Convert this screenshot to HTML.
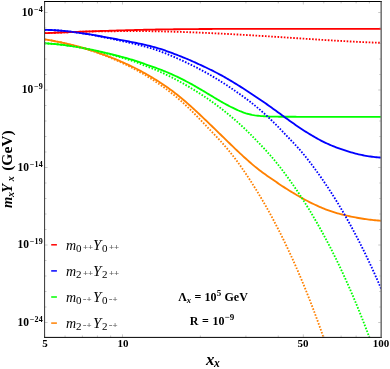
<!DOCTYPE html>
<html><head><meta charset="utf-8"><title>plot</title>
<style>
html,body{margin:0;padding:0;background:#fff;width:390px;height:369px;overflow:hidden;}
#w{width:390px;height:369px;position:relative;overflow:hidden;background:#fff;font-family:"Liberation Serif",serif;color:#000;}
.t{position:absolute;white-space:nowrap;line-height:1;will-change:transform;}
.yl{font-weight:bold;font-size:11.5px;text-align:right;width:40px;left:3.3px;}
.yl sup{font-size:8px;vertical-align:baseline;position:relative;top:-3.7px;margin-left:0.6px;letter-spacing:0.25px;}
.xl{font-weight:bold;font-size:11px;text-align:center;width:30px;}
.lgi{font-style:italic;}
.lgn{}
.lgp{color:#5a5a5a;letter-spacing:-0.2px;font-weight:bold;}
.an{font-weight:bold;font-size:12px;text-align:center;width:120px;left:152.5px;}
.an sup{font-size:9px;vertical-align:baseline;position:relative;top:-4.6px;}
.an sub{font-size:8.5px;vertical-align:baseline;position:relative;top:2px;font-style:italic;}
.xt{font-weight:bold;font-style:italic;font-size:15px;}
.xt sub{font-size:11px;vertical-align:baseline;position:relative;top:3.5px;}
</style></head><body><div id="w">
<svg width="390" height="369" viewBox="0 0 390 369" style="position:absolute;left:0;top:0">
<defs><clipPath id="c"><rect x="44.6" y="1.5" width="336.59999999999997" height="335.9"/></clipPath></defs>
<g clip-path="url(#c)" fill="none" stroke-linejoin="round">
<path d="M44.6,39.44 L46.5,39.68 L48.0,39.93 L49.5,40.19 L51.0,40.45 L52.5,40.72 L54.0,41.00 L55.5,41.29 L57.0,41.58 L58.5,41.88 L60.0,42.19 L61.5,42.50 L63.0,42.83 L64.5,43.16 L66.0,43.49 L67.5,43.84 L69.0,44.19 L70.5,44.55 L72.0,44.92 L73.5,45.30 L75.0,45.68 L76.5,46.08 L78.0,46.48 L79.5,46.89 L81.0,47.31 L82.5,47.74 L84.0,48.18 L85.5,48.63 L87.0,49.09 L88.5,49.55 L90.0,50.02 L91.5,50.50 L93.0,50.99 L94.5,51.48 L96.0,51.99 L97.5,52.50 L99.0,53.01 L100.5,53.53 L102.0,54.06 L103.5,54.60 L105.0,55.15 L106.5,55.71 L108.0,56.27 L109.5,56.84 L111.0,57.42 L112.5,58.01 L114.0,58.61 L115.5,59.22 L117.0,59.84 L118.5,60.46 L120.0,61.10 L121.5,61.74 L123.0,62.40 L124.5,63.06 L126.0,63.74 L127.5,64.42 L129.0,65.12 L130.5,65.83 L132.0,66.55 L133.5,67.28 L135.0,68.03 L136.5,68.78 L138.0,69.55 L139.5,70.34 L141.0,71.13 L142.5,71.94 L144.0,72.77 L145.5,73.61 L147.0,74.46 L148.5,75.33 L150.0,76.22 L151.5,77.11 L153.0,78.02 L154.5,78.94 L156.0,79.87 L157.5,80.81 L159.0,81.76 L160.5,82.73 L162.0,83.72 L163.5,84.72 L165.0,85.74 L166.5,86.78 L168.0,87.83 L169.5,88.91 L171.0,90.00 L172.5,91.11 L174.0,92.25 L175.5,93.40 L177.0,94.57 L178.5,95.77 L180.0,96.98 L181.5,98.22 L183.0,99.48 L184.5,100.75 L186.0,102.05 L187.5,103.37 L189.0,104.69 L190.5,106.03 L192.0,107.38 L193.5,108.74 L195.0,110.12 L196.5,111.50 L198.0,112.90 L199.5,114.30 L201.0,115.71 L202.5,117.13 L204.0,118.56 L205.5,119.99 L207.0,121.43 L208.5,122.88 L210.0,124.33 L211.5,125.78 L213.0,127.23 L214.5,128.69 L216.0,130.15 L217.5,131.61 L219.0,133.07 L220.5,134.53 L222.0,135.99 L223.5,137.45 L225.0,138.91 L226.5,140.37 L228.0,141.83 L229.5,143.28 L231.0,144.73 L232.5,146.18 L234.0,147.62 L235.5,149.05 L237.0,150.48 L238.5,151.89 L240.0,153.30 L241.5,154.69 L243.0,156.08 L244.5,157.45 L246.0,158.81 L247.5,160.15 L249.0,161.47 L250.5,162.78 L252.0,164.08 L253.5,165.35 L255.0,166.60 L256.5,167.83 L258.0,169.02 L259.5,170.19 L261.0,171.32 L262.5,172.43 L264.0,173.52 L265.5,174.60 L267.0,175.65 L268.5,176.70 L270.0,177.74 L271.5,178.77 L273.0,179.80 L274.5,180.83 L276.0,181.86 L277.5,182.88 L279.0,183.90 L280.5,184.90 L282.0,185.90 L283.5,186.88 L285.0,187.85 L286.5,188.81 L288.0,189.75 L289.5,190.69 L291.0,191.60 L292.5,192.51 L294.0,193.41 L295.5,194.30 L297.0,195.18 L298.5,196.06 L300.0,196.93 L301.5,197.78 L303.0,198.63 L304.5,199.45 L306.0,200.26 L307.5,201.05 L309.0,201.82 L310.5,202.57 L312.0,203.31 L313.5,204.04 L315.0,204.75 L316.5,205.45 L318.0,206.14 L319.5,206.81 L321.0,207.46 L322.5,208.09 L324.0,208.71 L325.5,209.30 L327.0,209.87 L328.5,210.42 L330.0,210.95 L331.5,211.45 L333.0,211.93 L334.5,212.40 L336.0,212.85 L337.5,213.28 L339.0,213.70 L340.5,214.10 L342.0,214.48 L343.5,214.86 L345.0,215.22 L346.5,215.57 L348.0,215.90 L349.5,216.23 L351.0,216.55 L352.5,216.85 L354.0,217.15 L355.5,217.44 L357.0,217.73 L358.5,218.00 L360.0,218.25 L361.5,218.50 L363.0,218.74 L364.5,218.96 L366.0,219.17 L367.5,219.38 L369.0,219.57 L370.5,219.75 L372.0,219.92 L373.5,220.08 L375.0,220.23 L376.5,220.37 L378.0,220.50 L379.5,220.62 L381.0,220.74 L381.2,220.74" stroke="#ff8000" stroke-width="1.85"/>
<path d="M44.6,43.36 L46.5,43.44 L48.0,43.53 L49.5,43.64 L51.0,43.75 L52.5,43.86 L54.0,43.99 L55.5,44.12 L57.0,44.26 L58.5,44.42 L60.0,44.58 L61.5,44.76 L63.0,44.94 L64.5,45.13 L66.0,45.32 L67.5,45.52 L69.0,45.73 L70.5,45.95 L72.0,46.18 L73.5,46.41 L75.0,46.65 L76.5,46.90 L78.0,47.15 L79.5,47.41 L81.0,47.68 L82.5,47.95 L84.0,48.23 L85.5,48.51 L87.0,48.80 L88.5,49.10 L90.0,49.40 L91.5,49.71 L93.0,50.02 L94.5,50.34 L96.0,50.66 L97.5,50.99 L99.0,51.32 L100.5,51.66 L102.0,52.00 L103.5,52.35 L105.0,52.70 L106.5,53.05 L108.0,53.41 L109.5,53.77 L111.0,54.14 L112.5,54.51 L114.0,54.89 L115.5,55.26 L117.0,55.64 L118.5,56.02 L120.0,56.41 L121.5,56.80 L123.0,57.20 L124.5,57.60 L126.0,58.01 L127.5,58.42 L129.0,58.84 L130.5,59.27 L132.0,59.71 L133.5,60.16 L135.0,60.62 L136.5,61.11 L138.0,61.61 L139.5,62.13 L141.0,62.66 L142.5,63.19 L144.0,63.72 L145.5,64.25 L147.0,64.77 L148.5,65.29 L150.0,65.81 L151.5,66.33 L153.0,66.86 L154.5,67.40 L156.0,67.95 L157.5,68.50 L159.0,69.06 L160.5,69.63 L162.0,70.20 L163.5,70.79 L165.0,71.40 L166.5,72.01 L168.0,72.64 L169.5,73.29 L171.0,73.95 L172.5,74.62 L174.0,75.30 L175.5,75.99 L177.0,76.70 L178.5,77.42 L180.0,78.16 L181.5,78.91 L183.0,79.66 L184.5,80.43 L186.0,81.21 L187.5,82.00 L189.0,82.79 L190.5,83.61 L192.0,84.43 L193.5,85.26 L195.0,86.10 L196.5,86.96 L198.0,87.83 L199.5,88.71 L201.0,89.61 L202.5,90.51 L204.0,91.40 L205.5,92.30 L207.0,93.20 L208.5,94.10 L210.0,95.01 L211.5,95.91 L213.0,96.81 L214.5,97.70 L216.0,98.59 L217.5,99.48 L219.0,100.37 L220.5,101.25 L222.0,102.12 L223.5,102.97 L225.0,103.80 L226.5,104.61 L228.0,105.41 L229.5,106.20 L231.0,106.96 L232.5,107.70 L234.0,108.43 L235.5,109.15 L237.0,109.85 L238.5,110.52 L240.0,111.14 L241.5,111.72 L243.0,112.28 L244.5,112.81 L246.0,113.30 L247.5,113.74 L249.0,114.13 L250.5,114.49 L252.0,114.83 L253.5,115.13 L255.0,115.39 L256.5,115.59 L258.0,115.77 L259.5,115.93 L261.0,116.07 L262.5,116.18 L264.0,116.28 L265.5,116.37 L267.0,116.45 L268.5,116.52 L270.0,116.57 L271.5,116.61 L273.0,116.63 L274.5,116.65 L276.0,116.67 L277.5,116.69 L279.0,116.71 L280.5,116.72 L282.0,116.73 L283.5,116.74 L285.0,116.75 L286.5,116.76 L288.0,116.77 L289.5,116.77 L291.0,116.78 L292.5,116.78 L294.0,116.79 L295.5,116.79 L297.0,116.80 L298.5,116.80 L300.0,116.80 L301.5,116.80 L303.0,116.80 L304.5,116.80 L306.0,116.80 L307.5,116.80 L309.0,116.80 L310.5,116.80 L312.0,116.80 L313.5,116.80 L315.0,116.80 L316.5,116.80 L318.0,116.80 L319.5,116.80 L321.0,116.80 L322.5,116.80 L324.0,116.80 L325.5,116.80 L327.0,116.80 L328.5,116.80 L330.0,116.80 L331.5,116.80 L333.0,116.80 L334.5,116.80 L336.0,116.80 L337.5,116.80 L339.0,116.80 L340.5,116.80 L342.0,116.80 L343.5,116.80 L345.0,116.80 L346.5,116.80 L348.0,116.80 L349.5,116.80 L351.0,116.80 L352.5,116.80 L354.0,116.80 L355.5,116.80 L357.0,116.80 L358.5,116.80 L360.0,116.80 L361.5,116.80 L363.0,116.80 L364.5,116.80 L366.0,116.80 L367.5,116.80 L369.0,116.80 L370.5,116.80 L372.0,116.80 L373.5,116.80 L375.0,116.80 L376.5,116.80 L378.0,116.80 L379.5,116.80 L381.0,116.80 L381.2,116.80" stroke="#00ff00" stroke-width="1.85"/>
<path d="M44.6,33.19 L46.5,33.12 L48.0,33.05 L49.5,32.98 L51.0,32.92 L52.5,32.85 L54.0,32.78 L55.5,32.72 L57.0,32.66 L58.5,32.59 L60.0,32.53 L61.5,32.47 L63.0,32.40 L64.5,32.34 L66.0,32.28 L67.5,32.22 L69.0,32.16 L70.5,32.10 L72.0,32.04 L73.5,31.99 L75.0,31.93 L76.5,31.87 L78.0,31.81 L79.5,31.76 L81.0,31.70 L82.5,31.65 L84.0,31.59 L85.5,31.54 L87.0,31.49 L88.5,31.44 L90.0,31.38 L91.5,31.33 L93.0,31.28 L94.5,31.23 L96.0,31.18 L97.5,31.13 L99.0,31.08 L100.5,31.04 L102.0,30.99 L103.5,30.94 L105.0,30.89 L106.5,30.85 L108.0,30.80 L109.5,30.76 L111.0,30.71 L112.5,30.67 L114.0,30.62 L115.5,30.58 L117.0,30.53 L118.5,30.49 L120.0,30.44 L121.5,30.40 L123.0,30.35 L124.5,30.31 L126.0,30.27 L127.5,30.22 L129.0,30.18 L130.5,30.13 L132.0,30.09 L133.5,30.05 L135.0,30.01 L136.5,29.97 L138.0,29.93 L139.5,29.89 L141.0,29.85 L142.5,29.81 L144.0,29.78 L145.5,29.74 L147.0,29.71 L148.5,29.67 L150.0,29.64 L151.5,29.61 L153.0,29.58 L154.5,29.55 L156.0,29.53 L157.5,29.50 L159.0,29.48 L160.5,29.46 L162.0,29.44 L163.5,29.42 L165.0,29.40 L166.5,29.38 L168.0,29.36 L169.5,29.34 L171.0,29.32 L172.5,29.30 L174.0,29.28 L175.5,29.27 L177.0,29.25 L178.5,29.23 L180.0,29.22 L181.5,29.20 L183.0,29.18 L184.5,29.17 L186.0,29.16 L187.5,29.14 L189.0,29.13 L190.5,29.11 L192.0,29.10 L193.5,29.09 L195.0,29.07 L196.5,29.06 L198.0,29.05 L199.5,29.04 L201.0,29.03 L202.5,29.02 L204.0,29.01 L205.5,29.00 L207.0,28.99 L208.5,28.98 L210.0,28.97 L211.5,28.96 L213.0,28.95 L214.5,28.94 L216.0,28.93 L217.5,28.93 L219.0,28.92 L220.5,28.91 L222.0,28.90 L223.5,28.90 L225.0,28.89 L226.5,28.88 L228.0,28.88 L229.5,28.87 L231.0,28.87 L232.5,28.86 L234.0,28.86 L235.5,28.85 L237.0,28.85 L238.5,28.84 L240.0,28.84 L241.5,28.84 L243.0,28.83 L244.5,28.83 L246.0,28.83 L247.5,28.82 L249.0,28.82 L250.5,28.82 L252.0,28.82 L253.5,28.81 L255.0,28.81 L256.5,28.81 L258.0,28.81 L259.5,28.81 L261.0,28.81 L262.5,28.80 L264.0,28.80 L265.5,28.80 L267.0,28.80 L268.5,28.80 L270.0,28.80 L271.5,28.80 L273.0,28.80 L274.5,28.80 L276.0,28.80 L277.5,28.80 L279.0,28.80 L280.5,28.80 L282.0,28.80 L283.5,28.80 L285.0,28.80 L286.5,28.81 L288.0,28.81 L289.5,28.81 L291.0,28.81 L292.5,28.81 L294.0,28.81 L295.5,28.81 L297.0,28.81 L298.5,28.82 L300.0,28.82 L301.5,28.82 L303.0,28.82 L304.5,28.82 L306.0,28.83 L307.5,28.83 L309.0,28.83 L310.5,28.83 L312.0,28.83 L313.5,28.84 L315.0,28.84 L316.5,28.84 L318.0,28.84 L319.5,28.84 L321.0,28.85 L322.5,28.85 L324.0,28.85 L325.5,28.85 L327.0,28.85 L328.5,28.86 L330.0,28.86 L331.5,28.86 L333.0,28.86 L334.5,28.86 L336.0,28.87 L337.5,28.87 L339.0,28.87 L340.5,28.87 L342.0,28.87 L343.5,28.88 L345.0,28.88 L346.5,28.88 L348.0,28.88 L349.5,28.88 L351.0,28.88 L352.5,28.89 L354.0,28.89 L355.5,28.89 L357.0,28.89 L358.5,28.89 L360.0,28.89 L361.5,28.89 L363.0,28.89 L364.5,28.89 L366.0,28.89 L367.5,28.89 L369.0,28.89 L370.5,28.89 L372.0,28.89 L373.5,28.89 L375.0,28.89 L376.5,28.89 L378.0,28.89 L379.5,28.89 L381.0,28.89 L381.2,28.89" stroke="#ff0000" stroke-width="1.85"/>
<path d="M44.6,29.85 L46.5,29.88 L48.0,29.92 L49.5,29.97 L51.0,30.03 L52.5,30.10 L54.0,30.18 L55.5,30.27 L57.0,30.37 L58.5,30.48 L60.0,30.60 L61.5,30.73 L63.0,30.86 L64.5,31.00 L66.0,31.16 L67.5,31.31 L69.0,31.48 L70.5,31.65 L72.0,31.83 L73.5,32.02 L75.0,32.21 L76.5,32.41 L78.0,32.62 L79.5,32.83 L81.0,33.05 L82.5,33.27 L84.0,33.50 L85.5,33.73 L87.0,33.97 L88.5,34.21 L90.0,34.45 L91.5,34.70 L93.0,34.95 L94.5,35.21 L96.0,35.47 L97.5,35.73 L99.0,36.00 L100.5,36.26 L102.0,36.53 L103.5,36.80 L105.0,37.08 L106.5,37.35 L108.0,37.63 L109.5,37.90 L111.0,38.18 L112.5,38.45 L114.0,38.73 L115.5,39.01 L117.0,39.28 L118.5,39.56 L120.0,39.84 L121.5,40.11 L123.0,40.39 L124.5,40.67 L126.0,40.95 L127.5,41.23 L129.0,41.52 L130.5,41.81 L132.0,42.10 L133.5,42.39 L135.0,42.69 L136.5,42.99 L138.0,43.30 L139.5,43.62 L141.0,43.94 L142.5,44.26 L144.0,44.60 L145.5,44.94 L147.0,45.29 L148.5,45.64 L150.0,46.01 L151.5,46.38 L153.0,46.78 L154.5,47.19 L156.0,47.62 L157.5,48.06 L159.0,48.52 L160.5,48.99 L162.0,49.48 L163.5,49.98 L165.0,50.49 L166.5,51.02 L168.0,51.55 L169.5,52.10 L171.0,52.65 L172.5,53.21 L174.0,53.78 L175.5,54.35 L177.0,54.92 L178.5,55.50 L180.0,56.08 L181.5,56.67 L183.0,57.27 L184.5,57.87 L186.0,58.49 L187.5,59.13 L189.0,59.77 L190.5,60.42 L192.0,61.08 L193.5,61.75 L195.0,62.43 L196.5,63.10 L198.0,63.79 L199.5,64.47 L201.0,65.16 L202.5,65.86 L204.0,66.57 L205.5,67.28 L207.0,68.00 L208.5,68.72 L210.0,69.46 L211.5,70.20 L213.0,70.95 L214.5,71.71 L216.0,72.48 L217.5,73.27 L219.0,74.06 L220.5,74.86 L222.0,75.68 L223.5,76.51 L225.0,77.35 L226.5,78.21 L228.0,79.08 L229.5,79.96 L231.0,80.86 L232.5,81.77 L234.0,82.68 L235.5,83.60 L237.0,84.52 L238.5,85.46 L240.0,86.40 L241.5,87.35 L243.0,88.30 L244.5,89.26 L246.0,90.23 L247.5,91.20 L249.0,92.18 L250.5,93.17 L252.0,94.16 L253.5,95.15 L255.0,96.16 L256.5,97.16 L258.0,98.18 L259.5,99.20 L261.0,100.22 L262.5,101.25 L264.0,102.29 L265.5,103.33 L267.0,104.37 L268.5,105.43 L270.0,106.49 L271.5,107.56 L273.0,108.64 L274.5,109.72 L276.0,110.81 L277.5,111.90 L279.0,113.00 L280.5,114.09 L282.0,115.19 L283.5,116.29 L285.0,117.38 L286.5,118.48 L288.0,119.57 L289.5,120.65 L291.0,121.73 L292.5,122.80 L294.0,123.87 L295.5,124.92 L297.0,125.96 L298.5,126.99 L300.0,128.01 L301.5,129.00 L303.0,129.99 L304.5,130.95 L306.0,131.90 L307.5,132.84 L309.0,133.76 L310.5,134.66 L312.0,135.55 L313.5,136.42 L315.0,137.28 L316.5,138.12 L318.0,138.95 L319.5,139.76 L321.0,140.56 L322.5,141.33 L324.0,142.08 L325.5,142.81 L327.0,143.51 L328.5,144.19 L330.0,144.85 L331.5,145.49 L333.0,146.10 L334.5,146.70 L336.0,147.28 L337.5,147.84 L339.0,148.39 L340.5,148.92 L342.0,149.44 L343.5,149.94 L345.0,150.44 L346.5,150.92 L348.0,151.39 L349.5,151.85 L351.0,152.29 L352.5,152.72 L354.0,153.14 L355.5,153.54 L357.0,153.92 L358.5,154.28 L360.0,154.63 L361.5,154.96 L363.0,155.26 L364.5,155.55 L366.0,155.82 L367.5,156.07 L369.0,156.30 L370.5,156.52 L372.0,156.72 L373.5,156.91 L375.0,157.09 L376.5,157.24 L378.0,157.39 L379.5,157.52 L381.0,157.64 L381.2,157.64" stroke="#0000ff" stroke-width="1.85"/>
<path d="M44.6,39.44 L46.5,39.68 L48.0,39.93 L49.5,40.19 L51.0,40.45 L52.5,40.72 L54.0,41.00 L55.5,41.29 L57.0,41.58 L58.5,41.88 L60.0,42.19 L61.5,42.50 L63.0,42.83 L64.5,43.16 L66.0,43.50 L67.5,43.85 L69.0,44.21 L70.5,44.58 L72.0,44.95 L73.5,45.33 L75.0,45.73 L76.5,46.13 L78.0,46.54 L79.5,46.96 L81.0,47.39 L82.5,47.83 L84.0,48.28 L85.5,48.73 L87.0,49.20 L88.5,49.68 L90.0,50.17 L91.5,50.67 L93.0,51.18 L94.5,51.69 L96.0,52.22 L97.5,52.75 L99.0,53.29 L100.5,53.84 L102.0,54.40 L103.5,54.98 L105.0,55.56 L106.5,56.16 L108.0,56.76 L109.5,57.38 L111.0,58.00 L112.5,58.63 L114.0,59.27 L115.5,59.93 L117.0,60.59 L118.5,61.26 L120.0,61.94 L121.5,62.63 L123.0,63.33 L124.5,64.05 L126.0,64.77 L127.5,65.50 L129.0,66.25 L130.5,67.01 L132.0,67.77 L133.5,68.56 L135.0,69.35 L136.5,70.16 L138.0,70.98 L139.5,71.82 L141.0,72.67 L142.5,73.53 L144.0,74.41 L145.5,75.31 L147.0,76.22 L148.5,77.14 L150.0,78.08 L151.5,79.03 L153.0,80.00 L154.5,80.97 L156.0,81.96 L157.5,82.96 L159.0,83.97 L160.5,85.00 L162.0,86.05 L163.5,87.11 L165.0,88.20 L166.5,89.30 L168.0,90.42 L169.5,91.55 L171.0,92.71 L172.5,93.89 L174.0,95.09 L175.5,96.31 L177.0,97.55 L178.5,98.82 L180.0,100.11 L181.5,101.42 L183.0,102.76 L184.5,104.12 L186.0,105.51 L187.5,106.93 L189.0,108.36 L190.5,109.81 L192.0,111.28 L193.5,112.77 L195.0,114.27 L196.5,115.78 L198.0,117.31 L199.5,118.86 L201.0,120.41 L202.5,121.98 L204.0,123.56 L205.5,125.15 L207.0,126.73 L208.5,128.31 L210.0,129.88 L211.5,131.46 L213.0,133.03 L214.5,134.61 L216.0,136.21 L217.5,137.81 L219.0,139.43 L220.5,141.07 L222.0,142.73 L223.5,144.42 L225.0,146.14 L226.5,147.88 L228.0,149.66 L229.5,151.47 L231.0,153.32 L232.5,155.21 L234.0,157.15 L235.5,159.13 L237.0,161.15 L238.5,163.21 L240.0,165.31 L241.5,167.45 L243.0,169.62 L244.5,171.81 L246.0,174.02 L247.5,176.27 L249.0,178.54 L250.5,180.84 L252.0,183.17 L253.5,185.53 L255.0,187.92 L256.5,190.35 L258.0,192.80 L259.5,195.29 L261.0,197.81 L262.5,200.36 L264.0,202.95 L265.5,205.57 L267.0,208.22 L268.5,210.91 L270.0,213.63 L271.5,216.38 L273.0,219.18 L274.5,222.01 L276.0,224.87 L277.5,227.77 L279.0,230.71 L280.5,233.69 L282.0,236.71 L283.5,239.76 L285.0,242.85 L286.5,245.99 L288.0,249.16 L289.5,252.38 L291.0,255.64 L292.5,258.93 L294.0,262.28 L295.5,265.66 L297.0,269.09 L298.5,272.56 L300.0,276.08 L301.5,279.64 L303.0,283.24 L304.5,286.90 L306.0,290.60 L307.5,294.35 L309.0,298.15 L310.5,301.99 L312.0,305.89 L313.5,309.83 L315.0,313.83 L316.5,317.87 L318.0,321.97 L319.5,326.13 L321.0,330.33 L322.5,334.59 L324.0,338.91 L325.5,343.27 L326.7,346.81" stroke="#ff8000" stroke-width="1.85" stroke-dasharray="1.6 1.55"/>
<path d="M44.6,43.36 L46.5,43.44 L48.0,43.53 L49.5,43.64 L51.0,43.75 L52.5,43.86 L54.0,43.99 L55.5,44.12 L57.0,44.26 L58.5,44.42 L60.0,44.58 L61.5,44.76 L63.0,44.94 L64.5,45.13 L66.0,45.33 L67.5,45.53 L69.0,45.75 L70.5,45.97 L72.0,46.21 L73.5,46.45 L75.0,46.69 L76.5,46.95 L78.0,47.21 L79.5,47.48 L81.0,47.75 L82.5,48.04 L84.0,48.32 L85.5,48.62 L87.0,48.92 L88.5,49.23 L90.0,49.55 L91.5,49.88 L93.0,50.21 L94.5,50.55 L96.0,50.90 L97.5,51.25 L99.0,51.61 L100.5,51.97 L102.0,52.34 L103.5,52.71 L105.0,53.09 L106.5,53.47 L108.0,53.86 L109.5,54.26 L111.0,54.66 L112.5,55.07 L114.0,55.48 L115.5,55.90 L117.0,56.32 L118.5,56.74 L120.0,57.16 L121.5,57.60 L123.0,58.04 L124.5,58.48 L126.0,58.94 L127.5,59.40 L129.0,59.86 L130.5,60.34 L132.0,60.82 L133.5,61.32 L135.0,61.84 L136.5,62.37 L138.0,62.93 L139.5,63.51 L141.0,64.10 L142.5,64.69 L144.0,65.28 L145.5,65.86 L147.0,66.44 L148.5,67.01 L150.0,67.60 L151.5,68.19 L153.0,68.79 L154.5,69.41 L156.0,70.04 L157.5,70.68 L159.0,71.34 L160.5,72.00 L162.0,72.68 L163.5,73.38 L165.0,74.09 L166.5,74.81 L168.0,75.54 L169.5,76.28 L171.0,77.03 L172.5,77.79 L174.0,78.56 L175.5,79.34 L177.0,80.14 L178.5,80.94 L180.0,81.75 L181.5,82.58 L183.0,83.41 L184.5,84.26 L186.0,85.12 L187.5,85.99 L189.0,86.87 L190.5,87.77 L192.0,88.67 L193.5,89.59 L195.0,90.51 L196.5,91.45 L198.0,92.40 L199.5,93.35 L201.0,94.32 L202.5,95.30 L204.0,96.29 L205.5,97.29 L207.0,98.31 L208.5,99.34 L210.0,100.38 L211.5,101.43 L213.0,102.50 L214.5,103.59 L216.0,104.68 L217.5,105.80 L219.0,106.92 L220.5,108.07 L222.0,109.23 L223.5,110.40 L225.0,111.60 L226.5,112.80 L228.0,114.02 L229.5,115.26 L231.0,116.50 L232.5,117.76 L234.0,119.04 L235.5,120.34 L237.0,121.65 L238.5,122.98 L240.0,124.33 L241.5,125.70 L243.0,127.09 L244.5,128.51 L246.0,129.94 L247.5,131.41 L249.0,132.90 L250.5,134.41 L252.0,135.93 L253.5,137.45 L255.0,138.98 L256.5,140.52 L258.0,142.07 L259.5,143.62 L261.0,145.19 L262.5,146.77 L264.0,148.37 L265.5,149.99 L267.0,151.63 L268.5,153.30 L270.0,154.99 L271.5,156.71 L273.0,158.47 L274.5,160.26 L276.0,162.09 L277.5,163.96 L279.0,165.86 L280.5,167.79 L282.0,169.74 L283.5,171.71 L285.0,173.71 L286.5,175.73 L288.0,177.78 L289.5,179.86 L291.0,181.96 L292.5,184.09 L294.0,186.25 L295.5,188.43 L297.0,190.64 L298.5,192.88 L300.0,195.15 L301.5,197.44 L303.0,199.76 L304.5,202.12 L306.0,204.50 L307.5,206.91 L309.0,209.35 L310.5,211.82 L312.0,214.33 L313.5,216.86 L315.0,219.43 L316.5,222.02 L318.0,224.65 L319.5,227.31 L321.0,230.01 L322.5,232.73 L324.0,235.50 L325.5,238.29 L327.0,241.12 L328.5,243.99 L330.0,246.89 L331.5,249.83 L333.0,252.80 L334.5,255.81 L336.0,258.86 L337.5,261.95 L339.0,265.07 L340.5,268.23 L342.0,271.44 L343.5,274.68 L345.0,277.96 L346.5,281.28 L348.0,284.65 L349.5,288.06 L351.0,291.51 L352.5,295.00 L354.0,298.53 L355.5,302.11 L357.0,305.74 L358.5,309.41 L360.0,313.12 L361.5,316.88 L363.0,320.69 L364.5,324.55 L366.0,328.45 L367.5,332.40 L369.0,336.41 L370.5,340.46 L372.0,344.56 L372.1,344.84" stroke="#00ff00" stroke-width="1.85" stroke-dasharray="1.6 1.55"/>
<path d="M44.6,33.19 L46.5,33.12 L48.0,33.05 L49.5,32.98 L51.0,32.92 L52.5,32.85 L54.0,32.78 L55.5,32.72 L57.0,32.66 L58.5,32.59 L60.0,32.53 L61.5,32.47 L63.0,32.41 L64.5,32.35 L66.0,32.29 L67.5,32.23 L69.0,32.18 L70.5,32.12 L72.0,32.07 L73.5,32.02 L75.0,31.97 L76.5,31.92 L78.0,31.87 L79.5,31.82 L81.0,31.78 L82.5,31.73 L84.0,31.69 L85.5,31.64 L87.0,31.60 L88.5,31.57 L90.0,31.53 L91.5,31.50 L93.0,31.47 L94.5,31.44 L96.0,31.42 L97.5,31.39 L99.0,31.37 L100.5,31.34 L102.0,31.32 L103.5,31.30 L105.0,31.29 L106.5,31.27 L108.0,31.26 L109.5,31.25 L111.0,31.24 L112.5,31.22 L114.0,31.21 L115.5,31.20 L117.0,31.19 L118.5,31.18 L120.0,31.17 L121.5,31.16 L123.0,31.16 L124.5,31.15 L126.0,31.14 L127.5,31.13 L129.0,31.13 L130.5,31.12 L132.0,31.12 L133.5,31.12 L135.0,31.12 L136.5,31.12 L138.0,31.12 L139.5,31.12 L141.0,31.13 L142.5,31.14 L144.0,31.14 L145.5,31.15 L147.0,31.16 L148.5,31.18 L150.0,31.19 L151.5,31.21 L153.0,31.22 L154.5,31.25 L156.0,31.27 L157.5,31.30 L159.0,31.32 L160.5,31.35 L162.0,31.39 L163.5,31.42 L165.0,31.46 L166.5,31.50 L168.0,31.54 L169.5,31.58 L171.0,31.62 L172.5,31.66 L174.0,31.71 L175.5,31.75 L177.0,31.80 L178.5,31.85 L180.0,31.90 L181.5,31.95 L183.0,32.00 L184.5,32.05 L186.0,32.10 L187.5,32.16 L189.0,32.21 L190.5,32.27 L192.0,32.32 L193.5,32.38 L195.0,32.44 L196.5,32.50 L198.0,32.56 L199.5,32.63 L201.0,32.69 L202.5,32.75 L204.0,32.82 L205.5,32.89 L207.0,32.95 L208.5,33.02 L210.0,33.09 L211.5,33.16 L213.0,33.23 L214.5,33.30 L216.0,33.37 L217.5,33.45 L219.0,33.52 L220.5,33.60 L222.0,33.67 L223.5,33.75 L225.0,33.83 L226.5,33.91 L228.0,33.99 L229.5,34.07 L231.0,34.15 L232.5,34.23 L234.0,34.31 L235.5,34.39 L237.0,34.48 L238.5,34.56 L240.0,34.65 L241.5,34.73 L243.0,34.82 L244.5,34.90 L246.0,34.99 L247.5,35.08 L249.0,35.17 L250.5,35.26 L252.0,35.35 L253.5,35.44 L255.0,35.53 L256.5,35.62 L258.0,35.71 L259.5,35.80 L261.0,35.90 L262.5,35.99 L264.0,36.08 L265.5,36.18 L267.0,36.27 L268.5,36.37 L270.0,36.46 L271.5,36.56 L273.0,36.65 L274.5,36.75 L276.0,36.85 L277.5,36.94 L279.0,37.04 L280.5,37.14 L282.0,37.24 L283.5,37.33 L285.0,37.43 L286.5,37.53 L288.0,37.63 L289.5,37.73 L291.0,37.82 L292.5,37.92 L294.0,38.02 L295.5,38.12 L297.0,38.22 L298.5,38.32 L300.0,38.41 L301.5,38.51 L303.0,38.61 L304.5,38.71 L306.0,38.81 L307.5,38.90 L309.0,39.00 L310.5,39.10 L312.0,39.19 L313.5,39.29 L315.0,39.39 L316.5,39.48 L318.0,39.58 L319.5,39.67 L321.0,39.77 L322.5,39.86 L324.0,39.96 L325.5,40.05 L327.0,40.14 L328.5,40.23 L330.0,40.33 L331.5,40.42 L333.0,40.51 L334.5,40.60 L336.0,40.69 L337.5,40.77 L339.0,40.86 L340.5,40.95 L342.0,41.03 L343.5,41.12 L345.0,41.20 L346.5,41.28 L348.0,41.37 L349.5,41.45 L351.0,41.53 L352.5,41.60 L354.0,41.68 L355.5,41.76 L357.0,41.83 L358.5,41.91 L360.0,41.98 L361.5,42.05 L363.0,42.12 L364.5,42.19 L366.0,42.25 L367.5,42.32 L369.0,42.38 L370.5,42.44 L372.0,42.50 L373.5,42.56 L375.0,42.62 L376.5,42.68 L378.0,42.73 L379.5,42.78 L381.0,42.83 L381.2,42.84" stroke="#ff0000" stroke-width="1.85" stroke-dasharray="1.6 1.55"/>
<path d="M44.6,29.85 L46.5,29.88 L48.0,29.92 L49.5,29.97 L51.0,30.03 L52.5,30.10 L54.0,30.18 L55.5,30.27 L57.0,30.37 L58.5,30.48 L60.0,30.60 L61.5,30.73 L63.0,30.86 L64.5,31.01 L66.0,31.16 L67.5,31.33 L69.0,31.50 L70.5,31.68 L72.0,31.86 L73.5,32.06 L75.0,32.26 L76.5,32.46 L78.0,32.68 L79.5,32.90 L81.0,33.12 L82.5,33.35 L84.0,33.59 L85.5,33.83 L87.0,34.08 L88.5,34.34 L90.0,34.60 L91.5,34.87 L93.0,35.14 L94.5,35.42 L96.0,35.70 L97.5,35.99 L99.0,36.28 L100.5,36.57 L102.0,36.87 L103.5,37.17 L105.0,37.47 L106.5,37.77 L108.0,38.08 L109.5,38.39 L111.0,38.70 L112.5,39.02 L114.0,39.33 L115.5,39.66 L117.0,39.98 L118.5,40.30 L120.0,40.62 L121.5,40.95 L123.0,41.28 L124.5,41.60 L126.0,41.93 L127.5,42.27 L129.0,42.60 L130.5,42.94 L132.0,43.29 L133.5,43.64 L135.0,43.99 L136.5,44.35 L138.0,44.72 L139.5,45.10 L141.0,45.48 L142.5,45.87 L144.0,46.27 L145.5,46.69 L147.0,47.10 L148.5,47.53 L150.0,47.97 L151.5,48.42 L153.0,48.89 L154.5,49.38 L156.0,49.88 L157.5,50.40 L159.0,50.93 L160.5,51.48 L162.0,52.04 L163.5,52.62 L165.0,53.20 L166.5,53.80 L168.0,54.40 L169.5,55.02 L171.0,55.64 L172.5,56.28 L174.0,56.92 L175.5,57.57 L177.0,58.23 L178.5,58.90 L180.0,59.58 L181.5,60.26 L183.0,60.96 L184.5,61.66 L186.0,62.36 L187.5,63.08 L189.0,63.80 L190.5,64.52 L192.0,65.26 L193.5,66.00 L195.0,66.76 L196.5,67.52 L198.0,68.30 L199.5,69.08 L201.0,69.88 L202.5,70.69 L204.0,71.50 L205.5,72.33 L207.0,73.17 L208.5,74.02 L210.0,74.88 L211.5,75.75 L213.0,76.63 L214.5,77.52 L216.0,78.43 L217.5,79.34 L219.0,80.27 L220.5,81.21 L222.0,82.16 L223.5,83.12 L225.0,84.09 L226.5,85.08 L228.0,86.07 L229.5,87.08 L231.0,88.09 L232.5,89.10 L234.0,90.13 L235.5,91.16 L237.0,92.19 L238.5,93.24 L240.0,94.30 L241.5,95.37 L243.0,96.45 L244.5,97.54 L246.0,98.64 L247.5,99.76 L249.0,100.90 L250.5,102.05 L252.0,103.22 L253.5,104.41 L255.0,105.62 L256.5,106.84 L258.0,108.09 L259.5,109.36 L261.0,110.65 L262.5,111.96 L264.0,113.30 L265.5,114.66 L267.0,116.04 L268.5,117.44 L270.0,118.86 L271.5,120.29 L273.0,121.75 L274.5,123.22 L276.0,124.70 L277.5,126.21 L279.0,127.73 L280.5,129.28 L282.0,130.84 L283.5,132.42 L285.0,134.02 L286.5,135.62 L288.0,137.19 L289.5,138.76 L291.0,140.31 L292.5,141.87 L294.0,143.44 L295.5,145.02 L297.0,146.64 L298.5,148.29 L300.0,149.99 L301.5,151.73 L303.0,153.54 L304.5,155.39 L306.0,157.27 L307.5,159.17 L309.0,161.09 L310.5,163.04 L312.0,165.01 L313.5,167.01 L315.0,169.04 L316.5,171.09 L318.0,173.17 L319.5,175.27 L321.0,177.40 L322.5,179.56 L324.0,181.74 L325.5,183.95 L327.0,186.19 L328.5,188.46 L330.0,190.76 L331.5,193.08 L333.0,195.44 L334.5,197.82 L336.0,200.24 L337.5,202.68 L339.0,205.16 L340.5,207.67 L342.0,210.21 L343.5,212.78 L345.0,215.38 L346.5,218.01 L348.0,220.68 L349.5,223.38 L351.0,226.11 L352.5,228.87 L354.0,231.67 L355.5,234.51 L357.0,237.38 L358.5,240.28 L360.0,243.22 L361.5,246.20 L363.0,249.22 L364.5,252.27 L366.0,255.36 L367.5,258.49 L369.0,261.65 L370.5,264.86 L372.0,268.11 L373.5,271.39 L375.0,274.72 L376.5,278.09 L378.0,281.50 L379.5,284.95 L381.0,288.45 L381.2,288.92" stroke="#0000ff" stroke-width="1.85" stroke-dasharray="1.6 1.55"/>
</g>
<path d="M44.6,322.50h3.0M381.2,322.50h-3.0M44.6,307.00h1.9M381.2,307.00h-1.9M44.6,291.50h1.9M381.2,291.50h-1.9M44.6,276.00h1.9M381.2,276.00h-1.9M44.6,260.50h1.9M381.2,260.50h-1.9M44.6,245.00h3.0M381.2,245.00h-3.0M44.6,229.50h1.9M381.2,229.50h-1.9M44.6,214.00h1.9M381.2,214.00h-1.9M44.6,198.50h1.9M381.2,198.50h-1.9M44.6,183.00h1.9M381.2,183.00h-1.9M44.6,167.50h3.0M381.2,167.50h-3.0M44.6,152.00h1.9M381.2,152.00h-1.9M44.6,136.50h1.9M381.2,136.50h-1.9M44.6,121.00h1.9M381.2,121.00h-1.9M44.6,105.50h1.9M381.2,105.50h-1.9M44.6,90.00h3.0M381.2,90.00h-3.0M44.6,74.50h1.9M381.2,74.50h-1.9M44.6,59.00h1.9M381.2,59.00h-1.9M44.6,43.50h1.9M381.2,43.50h-1.9M44.6,28.00h1.9M381.2,28.00h-1.9M44.6,12.50h3.0M381.2,12.50h-3.0M44.60,337.4v-3.0M44.60,1.5v3.0M65.09,337.4v-1.9M65.09,1.5v1.9M82.41,337.4v-1.9M82.41,1.5v1.9M97.41,337.4v-1.9M97.41,1.5v1.9M110.64,337.4v-1.9M110.64,1.5v1.9M122.48,337.4v-3.0M122.48,1.5v3.0M200.36,337.4v-1.9M200.36,1.5v1.9M245.92,337.4v-1.9M245.92,1.5v1.9M278.25,337.4v-1.9M278.25,1.5v1.9M303.32,337.4v-3.0M303.32,1.5v3.0M323.80,337.4v-1.9M323.80,1.5v1.9M341.12,337.4v-1.9M341.12,1.5v1.9M356.13,337.4v-1.9M356.13,1.5v1.9M369.36,337.4v-1.9M369.36,1.5v1.9M381.20,337.4v-3.0M381.20,1.5v3.0" stroke="#a4a4a4" stroke-width="0.6" fill="none"/>
<path d="M44.6,337.4V1.5" stroke="#333" stroke-width="1.0" fill="none"/>
<path d="M44.1,1.5H382.0" stroke="#000" stroke-width="1.0" fill="none"/>
<path d="M44.1,337.4H382.0" stroke="#000" stroke-width="1.0" fill="none"/>
<path d="M381.2,1.5V337.4" stroke="#777" stroke-width="1.6" fill="none"/>
<path d="M51.2,244.8H56.9" stroke="#ff0000" stroke-width="1.5"/>
<path d="M51.2,270.9H56.9" stroke="#0000ff" stroke-width="1.5"/>
<path d="M51.2,297.0H56.9" stroke="#00ff00" stroke-width="1.5"/>
<path d="M51.2,323.1H56.9" stroke="#ff8000" stroke-width="1.5"/>
</svg>
<div class="t yl" style="top:6.5px">10<sup>&minus;4</sup></div>
<div class="t yl" style="top:84.0px">10<sup>&minus;9</sup></div>
<div class="t yl" style="top:161.5px">10<sup>&minus;14</sup></div>
<div class="t yl" style="top:239.0px">10<sup>&minus;19</sup></div>
<div class="t yl" style="top:316.5px">10<sup>&minus;24</sup></div>
<div class="t xl" style="left:29.6px;top:337.8px">5</div>
<div class="t xl" style="left:107.5px;top:337.8px">10</div>
<div class="t xl" style="left:288.3px;top:337.8px">50</div>
<div class="t xl" style="left:366.2px;top:337.8px">100</div>
<div class="t lgi" style="left:66.2px;top:238.68px;font-size:14px;">m</div>
<div class="t lgn" style="left:75.8px;top:244.84px;font-size:9.5px;transform-origin:0 100%;transform:scaleX(1.16);">0</div>
<div class="t lgp" style="left:82.6px;top:243.06px;font-size:9px;">++</div>
<div class="t lgi" style="left:93.0px;top:238.68px;font-size:14px;transform-origin:0 100%;transform:scaleX(1.07);">Y</div>
<div class="t lgn" style="left:102.3px;top:244.84px;font-size:9.5px;transform-origin:0 100%;transform:scaleX(1.16);">0</div>
<div class="t lgp" style="left:108.8px;top:243.06px;font-size:9px;">++</div>
<div class="t lgi" style="left:66.2px;top:264.78px;font-size:14px;">m</div>
<div class="t lgn" style="left:75.8px;top:270.94px;font-size:9.5px;transform-origin:0 100%;transform:scaleX(1.16);">2</div>
<div class="t lgp" style="left:82.6px;top:269.16px;font-size:9px;">++</div>
<div class="t lgi" style="left:93.0px;top:264.78px;font-size:14px;transform-origin:0 100%;transform:scaleX(1.07);">Y</div>
<div class="t lgn" style="left:102.3px;top:270.94px;font-size:9.5px;transform-origin:0 100%;transform:scaleX(1.16);">2</div>
<div class="t lgp" style="left:108.8px;top:269.16px;font-size:9px;">++</div>
<div class="t lgi" style="left:66.2px;top:290.88px;font-size:14px;">m</div>
<div class="t lgn" style="left:75.8px;top:297.04px;font-size:9.5px;transform-origin:0 100%;transform:scaleX(1.16);">0</div>
<div class="t lgp" style="left:82.6px;top:295.26px;font-size:9px;"><span style="display:inline-block;transform:scaleX(1.25);margin:0 0.4px">-</span>+</div>
<div class="t lgi" style="left:93.0px;top:290.88px;font-size:14px;transform-origin:0 100%;transform:scaleX(1.07);">Y</div>
<div class="t lgn" style="left:102.3px;top:297.04px;font-size:9.5px;transform-origin:0 100%;transform:scaleX(1.16);">0</div>
<div class="t lgp" style="left:108.8px;top:295.26px;font-size:9px;"><span style="display:inline-block;transform:scaleX(1.25);margin:0 0.4px">-</span>+</div>
<div class="t lgi" style="left:66.2px;top:316.98px;font-size:14px;">m</div>
<div class="t lgn" style="left:75.8px;top:323.14px;font-size:9.5px;transform-origin:0 100%;transform:scaleX(1.16);">2</div>
<div class="t lgp" style="left:82.6px;top:321.36px;font-size:9px;"><span style="display:inline-block;transform:scaleX(1.25);margin:0 0.4px">-</span>+</div>
<div class="t lgi" style="left:93.0px;top:316.98px;font-size:14px;transform-origin:0 100%;transform:scaleX(1.07);">Y</div>
<div class="t lgn" style="left:102.3px;top:323.14px;font-size:9.5px;transform-origin:0 100%;transform:scaleX(1.16);">2</div>
<div class="t lgp" style="left:108.8px;top:321.36px;font-size:9px;"><span style="display:inline-block;transform:scaleX(1.25);margin:0 0.4px">-</span>+</div>
<div class="t an" style="top:291.1px;word-spacing:0.4px">&Lambda;<sub>x</sub> = 10<sup>5</sup> GeV</div>
<div class="t an" style="top:314.9px;word-spacing:0.6px;left:152.2px">R = 10<sup>&minus;9</sup></div>
<div class="t xt" style="left:205.6px;top:351.0px;font-size:17px">x</div>
<div class="t xt" style="left:214.1px;top:358.0px;font-size:11.5px">x</div>
<div class="t" style="left:0;top:0;width:90px;height:20px;font-weight:bold;font-style:italic;transform-origin:0 0;transform:translate(0px,209px) rotate(-90deg)"><span style="position:absolute;left:1.0px;top:-0.34px;font-size:14.5px;line-height:1;">m</span><span style="position:absolute;left:11.9px;top:6.33px;font-size:10px;line-height:1;">x</span><span style="position:absolute;left:16.2px;top:-0.34px;font-size:14.5px;line-height:1;">Y</span><span style="position:absolute;left:27.7px;top:6.33px;font-size:10px;line-height:1;">x</span><span style="position:absolute;left:38.2px;top:-1.18px;font-size:15.5px;line-height:1;font-style:normal;">(GeV)</span></div>
</div></body></html>
